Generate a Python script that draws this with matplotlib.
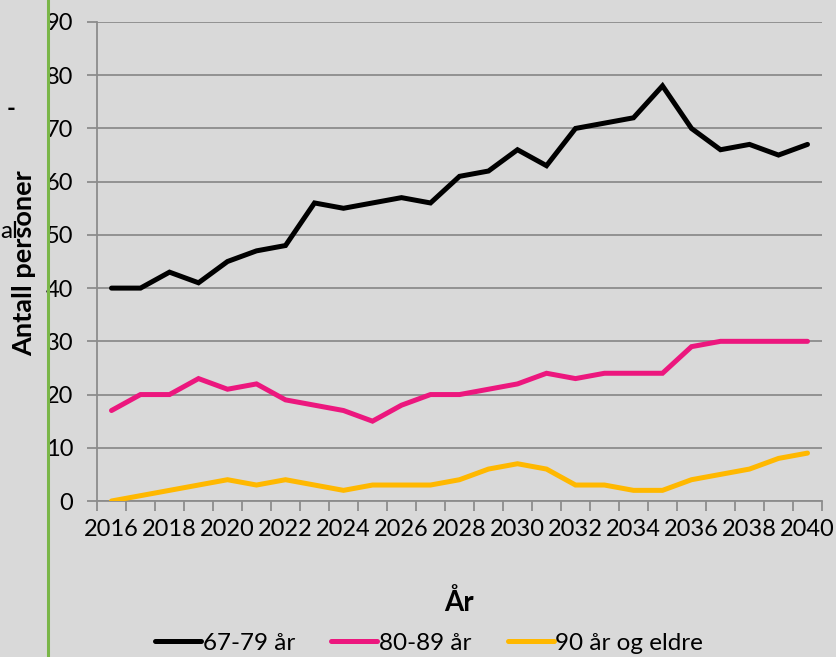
import matplotlib
matplotlib.use("Agg")
import matplotlib.pyplot as plt
from matplotlib.lines import Line2D

plt.rcParams['font.family'] = ['Lato', 'DejaVu Sans']

years = list(range(2016, 2041))
tick_labels = [str(y) for y in years[::2]]
s_67_79 = [40, 40, 43, 41, 45, 47, 48, 56, 55, 56, 57, 56, 61, 62, 66, 63, 70, 71, 72, 78, 70, 66, 67, 65, 67]
s_80_89 = [17, 20, 20, 23, 21, 22, 19, 18, 17, 15, 18, 20, 20, 21, 22, 24, 23, 24, 24, 24, 29, 30, 30, 30, 30]
s_90 = [0, 1, 2, 3, 4, 3, 4, 3, 2, 3, 3, 3, 4, 6, 7, 6, 3, 3, 2, 2, 4, 5, 6, 8, 9]
series_names = ["67-79 år", "80-89 år", "90 år og eldre"]
colors = ["#000000", "#EC177E", "#FFB800"]

W, H = 836, 657
fig = plt.figure(figsize=(W / 100, H / 100), dpi=100)
bg = "#D9D9D9"
fig.patch.set_facecolor(bg)
FS = 17

L, R, B, T = 97, 822, 501, 22
ax = fig.add_axes([L / W, 1 - B / H, (R - L) / W, (B - T) / H])
ax.set_facecolor(bg)

x = list(range(len(years)))
for vals, name, c in zip([s_67_79, s_80_89, s_90], series_names, colors):
    ax.plot(x, vals, color=c, lw=3.6, label=name, solid_capstyle='round',
            solid_joinstyle='miter', zorder=3)

ax.set_xlim(-0.5, len(years) - 0.5)
ax.set_ylim(0, 90)
ax.set_yticks(range(0, 91, 10))
ax.set_yticklabels([str(v) for v in range(0, 91, 10)], fontsize=FS)
ax.yaxis.grid(True, color="#8C8C8C", lw=1.3)
ax.set_axisbelow(True)

ax.set_xticks([i - 0.5 for i in range(len(years) + 1)])
ax.set_xticklabels([])
ax.set_xticks(x[::2], minor=True)
ax.set_xticklabels(tick_labels, minor=True, fontsize=FS)
ax.tick_params(axis='x', which='major', length=7, width=1.3, color="#8C8C8C", direction='out')
ax.tick_params(axis='x', which='minor', length=0, pad=13)
ax.tick_params(axis='y', length=7, width=1.3, color="#8C8C8C", pad=10)

for s in ['top', 'right']:
    ax.spines[s].set_visible(False)
for s in ['left', 'bottom']:
    ax.spines[s].set_color("#8C8C8C")
    ax.spines[s].set_linewidth(1.3)

fig.text(459 / W, 1 - 603 / H, "År", ha='center', va='center', fontsize=20, fontweight='bold')
fig.text(24 / W, 1 - 263 / H, "Antall personer", ha='center', va='center', rotation=90,
         rotation_mode='anchor', fontsize=19.5, fontweight='bold')

# clipped text fragments at left edge
fig.text(11 / W, 1 - 108 / H, "-", ha='center', va='center', fontsize=FS, fontweight='bold')
fig.text(0, 1 - 232 / H, "al", ha='left', va='center', fontsize=FS + 0.5)

# green vertical rule
fig.add_artist(Line2D([48 / W, 48 / W], [0, 1], color="#7AB648", lw=2.2, transform=fig.transFigure))

fig.legend(loc='center', bbox_to_anchor=(429 / W, 1 - 643 / H), ncol=3, frameon=False,
           fontsize=FS + 0.5, handlelength=1.9, handletextpad=0.05, columnspacing=1.5)

fig.savefig("out.png", dpi=100, facecolor=bg)
